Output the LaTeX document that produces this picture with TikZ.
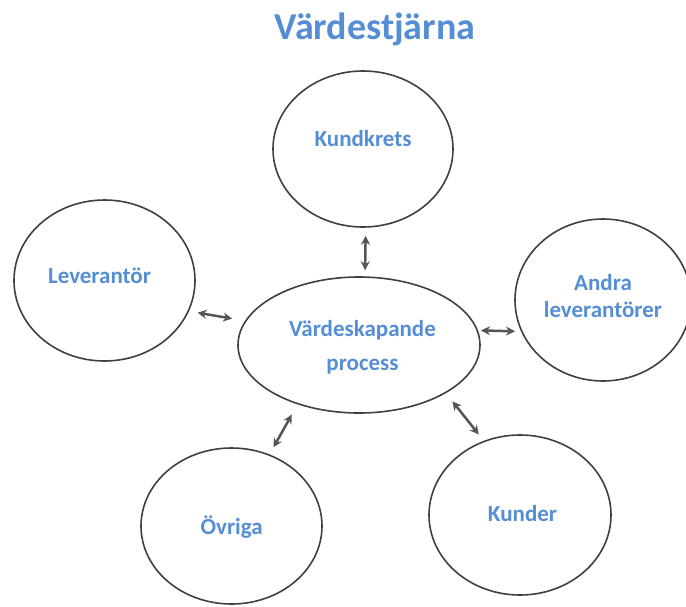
\documentclass[tikz,border=0pt]{standalone}
\usepackage{fontspec}
\setmainfont{Carlito}
\usetikzlibrary{shapes.geometric,arrows.meta}
\definecolor{txtblue}{RGB}{85,142,213}
\definecolor{rimgray}{RGB}{64,64,64}
\definecolor{arrgray}{RGB}{85,85,85}
\begin{document}
\begin{tikzpicture}[x=1pt,y=-1pt,
  ring/.style={draw=rimgray, line width=1.6pt, shape=ellipse, inner sep=0pt},
  lbl/.style={text=txtblue, font=\fontsize{23}{28}\selectfont\bfseries, anchor=base, inner sep=0pt},
  link/.style={draw=arrgray, line width=2.5pt,
    {Stealth[length=9pt,width=9pt]}-{Stealth[length=9pt,width=9pt]}}]
  \fill[white] (0,0) rectangle (686,606);
  \useasboundingbox (0,0) rectangle (686,606);

  % title
  \node[lbl, font=\fontsize{38}{45}\selectfont\bfseries] (title) at (375,39) {Värdestjärna};

  % the six ellipses
  \node[ring, minimum width=180pt, minimum height=156pt] (kk)  at (363,149)    {};
  \node[ring, minimum width=181pt, minimum height=161pt] (lev) at (104.5,280.5) {};
  \node[ring, minimum width=242pt, minimum height=136pt] (vp)  at (359,345)    {};
  \node[ring, minimum width=176pt, minimum height=162pt] (and) at (603,300)    {};
  \node[ring, minimum width=181pt, minimum height=156pt] (ovr) at (231.5,526)  {};
  \node[ring, minimum width=182pt, minimum height=160pt] (kun) at (520,515)    {};

  % labels
  \node[lbl] (kkT)   at (363,146.7)   {Kundkrets};
  \node[lbl] (levT)  at (99.5,283.3)  {Leverantör};
  \node[lbl] (vpT1)  at (362.5,336.7) {Värdeskapande};
  \node[lbl] (vpT2)  at (362.5,370)   {process};
  \node[lbl] (andT1) at (603,290)     {Andra};
  \node[lbl] (andT2) at (603,317)     {leverantörer};
  \node[lbl] (ovrT)  at (231.7,534)   {Övriga};
  \node[lbl] (kunT)  at (522.5,521.7) {Kunder};

  % two-way links to the central process
  \draw[link, shorten <=8.7pt, shorten >=13pt]   (lev.-20.7)  -- (vp.168.9);
  \draw[link, shorten <=8pt,   shorten >=6pt]    (kk.-88.7)   -- (vp.85);
  \draw[link, shorten <=3pt,   shorten >=6pt]    (vp.7.2)     -- (and.-159.8);
  \draw[link, shorten <=11.7pt, shorten >=8.1pt] (vp.-136.9)  -- (ovr.62.5);
  \draw[link, shorten <=10.4pt, shorten >=8pt]   (vp.-29.2)   -- (kun.116);
\end{tikzpicture}
\end{document}
